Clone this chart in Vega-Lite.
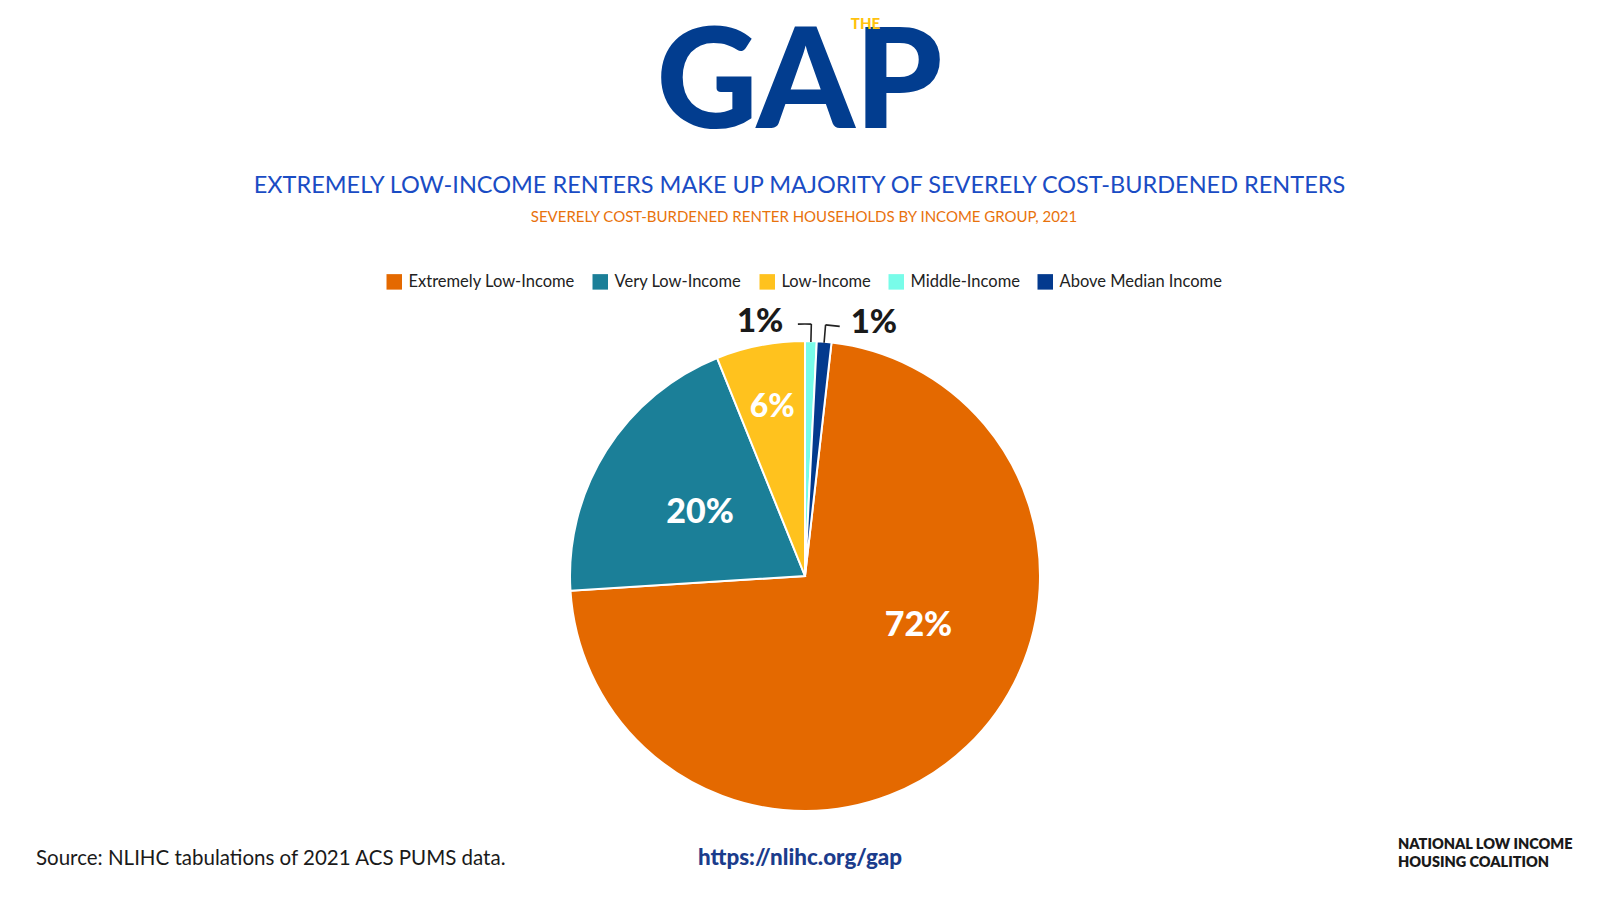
{
  "$schema": "https://vega.github.io/schema/vega-lite/v6.json",
  "background": "white",
  "padding": {"left": 36, "top": 15, "right": 20, "bottom": 10},
  "bounds": "flush",
  "spacing": 0,
  "hconcat": [
    {
      "width": 534,
      "height": 470,
      "data": {"values": [{}]},
      "mark": {"type": "text", "text": ""},
      "title": {"text": "Source: NLIHC tabulations of 2021 ACS PUMS data.", "orient": "bottom", "anchor": "start", "font": "Lato", "fontSize": 20.5, "fontWeight": "normal", "color": "#1A1A1A", "offset": 38}
    },
    {
      "width": 470,
      "height": 470,
      "title": {"text": "https://nlihc.org/gap", "orient": "bottom", "anchor": "middle", "dx": -5, "font": "Lato", "fontSize": 22.4, "fontWeight": 900, "color": "#1B3C8C", "offset": 32},
      "data": {
        "values": [
          {"group": "Extremely Low-Income", "share": 0.722, "ord": 3},
          {"group": "Very Low-Income", "share": 0.199, "ord": 4},
          {"group": "Low-Income", "share": 0.061, "ord": 5},
          {"group": "Middle-Income", "share": 0.008, "ord": 1},
          {"group": "Above Median Income", "share": 0.010, "ord": 2}
        ]
      },
      "layer": [
        {
          "mark": {"type": "arc", "stroke": "white", "strokeWidth": 2},
          "encoding": {
            "theta": {"field": "share", "type": "quantitative", "stack": true, "scale": {"domain": [0, 1]}},
            "order": {"field": "ord", "type": "quantitative"},
            "color": {
              "field": "group",
              "type": "nominal",
              "scale": {
                "domain": ["Extremely Low-Income", "Very Low-Income", "Low-Income", "Middle-Income", "Above Median Income"],
                "range": ["#E46900", "#1B7F98", "#FFC21E", "#78FCE9", "#033A8E"]
              },
              "legend": {
                "orient": "none",
                "legendX": 350,
                "legendY": -131.5,
                "direction": "horizontal",
                "title": "SEVERELY COST-BURDENED RENTER HOUSEHOLDS BY INCOME GROUP, 2021",
                "titleFont": "Lato",
                "titleFontSize": 15,
                "titleFontWeight": "normal",
                "titleColor": "#E8720C",
                "titleAnchor": "middle",
                "titleOrient": "top",
                "titlePadding": 49,
                "titleLimit": 1200,
                "symbolType": "square",
                "symbolSize": 240,
                "symbolStrokeWidth": 0,
                "labelFont": "Lato",
                "labelFontSize": 16.5,
                "labelColor": "#222222",
                "labelLimit": 400,
                "labelOffset": 6,
                "columnPadding": 17
              }
            }
          }
        },
        {
          "transform": [
            {"window": [{"op": "sum", "field": "share", "as": "cum"}], "sort": [{"field": "ord"}]},
            {"calculate": "datum.cum - datum.share / 2", "as": "mid"},
            {"calculate": "datum.group == 'Middle-Income' ? datum.mid - 0.0085 : datum.mid + 0.009", "as": "tip"}
          ],
          "layer": [
            {
              "transform": [{"filter": "datum.group == 'Very Low-Income'"}],
              "mark": {"type": "text", "radius": 124, "dy": 3, "font": "Lato", "fontSize": 34, "fontWeight": 900, "color": "white", "baseline": "middle"},
              "encoding": {
                "theta": {"field": "mid", "type": "quantitative", "stack": null, "scale": {"domain": [0, 1]}},
                "text": {"field": "share", "type": "quantitative", "format": ".0%"}
              }
            },
            {
              "transform": [{"filter": "datum.group == 'Extremely Low-Income'"}],
              "mark": {"type": "text", "radius": 124, "dx": 28, "dy": -40, "font": "Lato", "fontSize": 34, "fontWeight": 900, "color": "white", "baseline": "middle"},
              "encoding": {
                "theta": {"field": "mid", "type": "quantitative", "stack": null, "scale": {"domain": [0, 1]}},
                "text": {"field": "share", "type": "quantitative", "format": ".0%"}
              }
            },
            {
              "transform": [{"filter": "datum.group == 'Low-Income'"}],
              "mark": {"type": "text", "radius": 172, "font": "Lato", "fontSize": 32, "fontWeight": 900, "color": "white", "baseline": "middle"},
              "encoding": {
                "theta": {"field": "mid", "type": "quantitative", "stack": null, "scale": {"domain": [0, 1]}},
                "text": {"field": "share", "type": "quantitative", "format": ".0%"}
              }
            },
            {
              "transform": [{"filter": "datum.group == 'Middle-Income'"}],
              "mark": {"type": "text", "radius": 254, "dx": -28, "align": "right", "font": "Lato", "fontSize": 33, "fontWeight": 900, "color": "#1A1A1A", "baseline": "middle"},
              "encoding": {
                "theta": {"field": "mid", "type": "quantitative", "stack": null, "scale": {"domain": [0, 1]}},
                "text": {"field": "share", "type": "quantitative", "format": ".0%"}
              }
            },
            {
              "transform": [{"filter": "datum.group == 'Above Median Income'"}],
              "mark": {"type": "text", "radius": 254, "dx": 25, "align": "left", "font": "Lato", "fontSize": 33, "fontWeight": 900, "color": "#1A1A1A", "baseline": "middle"},
              "encoding": {
                "theta": {"field": "mid", "type": "quantitative", "stack": null, "scale": {"domain": [0, 1]}},
                "text": {"field": "share", "type": "quantitative", "format": ".0%"}
              }
            },
            {
              "transform": [{"filter": "datum.share < 0.02"}],
              "mark": {"type": "arc", "innerRadius": 234, "outerRadius": 252, "fill": "transparent", "stroke": "#222222", "strokeWidth": 1.6},
              "encoding": {
                "theta": {"field": "mid", "type": "quantitative", "stack": null, "scale": {"domain": [0, 1]}},
                "theta2": {"field": "mid"}
              }
            },
            {
              "transform": [{"filter": "datum.share < 0.02"}],
              "mark": {"type": "arc", "innerRadius": 252, "outerRadius": 252, "fill": "transparent", "stroke": "#222222", "strokeWidth": 1.6},
              "encoding": {
                "theta": {"field": "mid", "type": "quantitative", "stack": null, "scale": {"domain": [0, 1]}},
                "theta2": {"field": "tip"}
              }
            }
          ]
        }
      ]
    },
    {
      "width": 1,
      "height": 470,
      "data": {"values": [{}]},
      "mark": {"type": "text", "text": ""},
      "title": {
        "text": "GAP",
        "subtitle": "EXTREMELY LOW-INCOME RENTERS MAKE UP MAJORITY OF SEVERELY COST-BURDENED RENTERS",
        "orient": "top",
        "anchor": "middle",
        "dx": -241,
        "font": "Lato",
        "fontSize": 140,
        "fontWeight": 900,
        "color": "#023D8F",
        "subtitleFont": "Lato",
        "subtitleFontSize": 23.5,
        "subtitleFontWeight": "normal",
        "subtitleColor": "#1A4CC4",
        "subtitlePadding": 17.5,
        "offset": 142.5
      }
    },
    {
      "width": 1,
      "height": 470,
      "data": {"values": [{}]},
      "mark": {"type": "text", "text": ""},
      "title": {"text": "THE", "orient": "top", "anchor": "middle", "dx": -176, "font": "Lato", "fontSize": 15, "fontWeight": 900, "color": "#FFC20E", "offset": 309}
    },
    {
      "width": 532,
      "height": 470,
      "data": {"values": [{}]},
      "mark": {"type": "text", "text": ""},
      "title": {"text": ["NATIONAL LOW INCOME", "HOUSING COALITION"], "orient": "bottom", "anchor": "start", "dx": 356, "font": "Lato", "fontSize": 14.5, "fontWeight": 800, "lineHeight": 17.5, "color": "#1A1A1A", "offset": 27}
    }
  ],
  "config": {"view": {"stroke": null}}
}
